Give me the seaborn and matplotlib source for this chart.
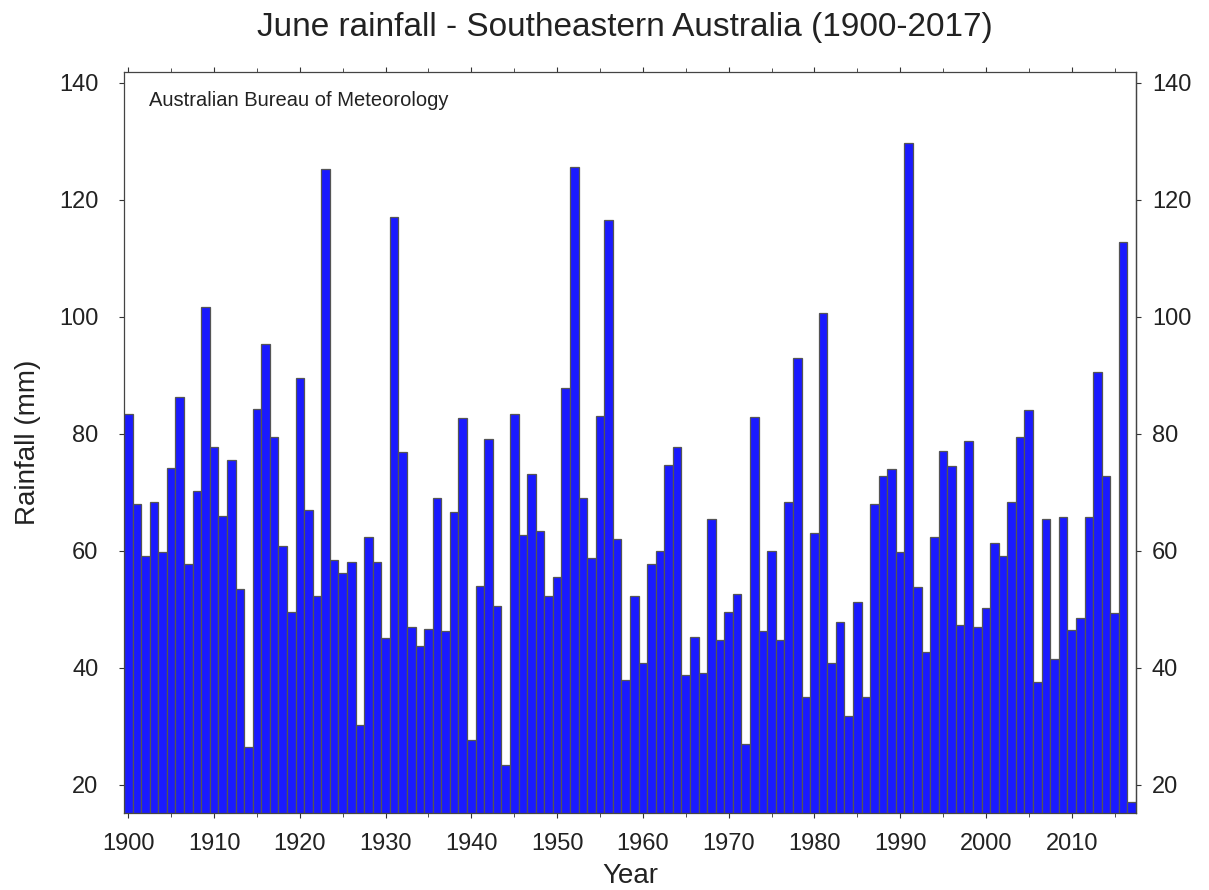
"""
June rainfall - Southeastern Australia (1900-2017), bar chart
"""
import numpy as np
import pandas as pd
import matplotlib
matplotlib.use("Agg")
import matplotlib.pyplot as plt
from matplotlib.ticker import MultipleLocator
import seaborn as sns

# Data (mm)
years = list(range(1900, 2018))
rain_1900s = [83.4, 68.0, 59.2, 68.3, 59.8, 74.2, 86.3, 57.7, 70.3, 101.6]
rain_1910s = [77.8, 66.0, 75.5, 53.5, 26.4, 84.3, 95.4, 79.4, 60.8, 49.6]
rain_1920s = [89.6, 66.9, 52.2, 125.3, 58.5, 56.2, 58.1, 30.2, 62.3, 58.1]
rain_1930s = [45.1, 117.0, 76.9, 46.9, 43.7, 46.7, 69.0, 46.3, 66.7, 82.7]
rain_1940s = [27.6, 54.0, 79.1, 50.6, 23.4, 83.4, 62.7, 73.2, 63.4, 52.2]
rain_1950s = [55.6, 87.9, 125.6, 69.0, 58.8, 83.0, 116.5, 62.0, 38.0, 52.2]
rain_1960s = [40.8, 57.8, 60.0, 74.7, 77.8, 38.8, 45.3, 39.1, 65.4, 44.7]
rain_1970s = [49.6, 52.6, 27.0, 82.9, 46.3, 60.0, 44.7, 68.3, 92.9, 35.1]
rain_1980s = [63.1, 100.7, 40.8, 47.8, 31.8, 51.3, 35.1, 68.0, 72.8, 73.9]
rain_1990s = [59.8, 129.6, 53.9, 42.7, 62.3, 77.1, 74.5, 47.3, 78.8, 46.9]
rain_2000s = [50.2, 61.4, 59.2, 68.3, 79.4, 84.0, 37.6, 65.4, 41.5, 65.7]
rain_2010s = [46.5, 48.6, 65.7, 90.6, 72.7, 49.4, 112.7, 17.1]

rainfall = (rain_1900s + rain_1910s + rain_1920s + rain_1930s + rain_1940s
            + rain_1950s + rain_1960s + rain_1970s + rain_1980s + rain_1990s
            + rain_2000s + rain_2010s)

y_ticks = [20, 40, 60, 80, 100, 120, 140]
x_ticks = [1900, 1910, 1920, 1930, 1940, 1950, 1960, 1970, 1980, 1990, 2000, 2010]

df = pd.DataFrame({"Year": years, "Rainfall": rainfall})

sns.set_style("ticks")
plt.rcParams["font.family"] = ["Liberation Sans", "DejaVu Sans"]

fig = plt.figure(figsize=(12.09, 8.90), dpi=100)
ax = fig.add_axes([0.1026, 0.0865, 0.8370, 0.8325])

sns.barplot(data=df, x="Year", y="Rainfall", native_scale=True, width=1.0,
            color="#1a1aff", saturation=1, edgecolor="#555555", linewidth=0.9,
            ax=ax)

ax.set_xlim(1899.5, 2017.5)
ax.set_ylim(15.2, 141.8)
ax.set_yticks(y_ticks)
ax.set_xticks(x_ticks)
ax.xaxis.set_minor_locator(MultipleLocator(5))

ax.tick_params(axis="both", which="both", direction="out", colors="#333333",
               labelcolor="#222222", labelsize=17)
ax.tick_params(axis="y", length=3.5, pad=15)
ax.tick_params(axis="x", which="major", top=True, length=3.5, pad=11)
ax.tick_params(axis="x", which="minor", top=True, length=3)

# right-hand copy of the rainfall scale
ax_r = ax.secondary_yaxis("right")
ax_r.set_yticks(y_ticks)
ax_r.tick_params(axis="y", direction="out", length=3.5, pad=8, colors="#333333",
                 labelcolor="#222222", labelsize=17)
ax_r.spines["right"].set_color("#444444")
ax_r.spines["right"].set_linewidth(0.9)

for side in ["top", "right", "bottom", "left"]:
    ax.spines[side].set_visible(True)
    ax.spines[side].set_color("#444444")
    ax.spines[side].set_linewidth(0.9)

ax.set_xlabel("Year", fontsize=20, color="#222222", labelpad=6)
ax.set_ylabel("Rainfall (mm)", fontsize=20, color="#222222", labelpad=13)

ax.text(0.025, 0.975, "Australian Bureau of Meteorology", transform=ax.transAxes,
        fontsize=14.5, color="#222222", ha="left", va="top")

fig.text(0.517, 0.987, "June rainfall - Southeastern Australia (1900-2017)",
         fontsize=24, color="#222222", ha="center", va="top",
         family=["Liberation Sans Narrow", "Liberation Sans", "DejaVu Sans"])

fig.savefig("out.png", dpi=100, facecolor="white")
plt.close(fig)
